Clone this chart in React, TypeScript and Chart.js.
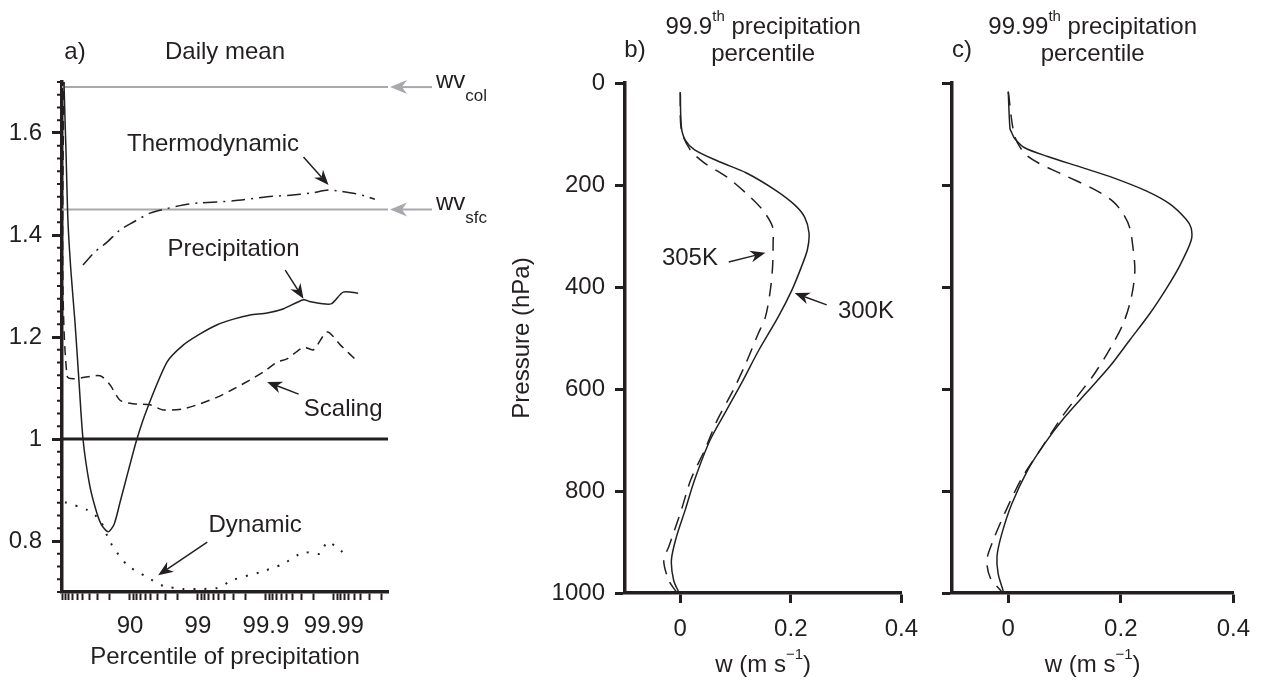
import React, { useEffect, useRef } from 'react';
import { Chart, registerables } from 'chart.js';

Chart.register(...registerables);

const FONT = '"Liberation Sans", Arial, Helvetica, sans-serif';
const INK = '#231f20';
const GREY = '#a7a9ac';

// ---------- Panel a: ratio vs percentile of precipitation ----------
const PCT_MIN = 0;
const PCT_MAX = 99.9984;
const pctLabelTicks = [90, 99, 99.9, 99.99];
const pctLabels = ['90', '99', '99.9', '99.99'];
const pctMinorTicks = [
  0, 10, 20, 30, 40, 50, 60, 70, 80,
  91, 92, 93, 94, 95, 96, 97, 98,
  99.1, 99.2, 99.3, 99.4, 99.5, 99.6, 99.7, 99.8,
  99.91, 99.92, 99.93, 99.94, 99.95, 99.96, 99.97, 99.98,
  99.991, 99.992, 99.993, 99.994, 99.995, 99.996, 99.997, 99.998,
];
const ratioTicks = [0.8, 1, 1.2, 1.4, 1.6];
const ratioMinorTicks = Array.from({ length: 41 }, (_, k) => +(0.7 + k * 0.025).toFixed(3)).filter(
  (v) => !ratioTicks.includes(v)
);

const precipPct = [3.3, 6.6, 12.7, 18.4, 26.3, 35.6, 43.8, 50.9, 60.0, 67.3, 73.4, 79.0, 82.9, 86.0, 89.3, 92.1, 94.4, 97.16, 98.35, 99.07, 99.48, 99.7, 99.83, 99.904, 99.944, 99.972, 99.978, 99.989, 99.9927, 99.9956];
const precipRatio = [1.8, 1.696, 1.563, 1.425, 1.327, 1.229, 1.112, 1.0, 0.916, 0.867, 0.833, 0.818, 0.833, 0.876, 0.935, 1.0, 1.059, 1.151, 1.184, 1.206, 1.224, 1.235, 1.243, 1.247, 1.255, 1.273, 1.269, 1.265, 1.288, 1.286];

const scalingPct = [6.6, 15.6, 72.4, 80.4, 86.0, 91.0, 94.94, 96.75, 98.35, 99.07, 99.48, 99.7, 99.83, 99.89, 99.932, 99.951, 99.972, 99.98, 99.9875, 99.992, 99.9956];
const scalingRatio = [1.8, 1.124, 1.124, 1.106, 1.076, 1.069, 1.067, 1.057, 1.059, 1.069, 1.082, 1.098, 1.116, 1.131, 1.151, 1.157, 1.18, 1.175, 1.21, 1.184, 1.151];

const thermoPct = [50.9, 67.3, 78.3, 86.0, 91.0, 94.94, 96.96, 98.35, 99.07, 99.7, 99.904, 99.956, 99.9777, 99.9879, 99.992, 99.9948, 99.9968, 99.9975];
const thermoRatio = [1.341, 1.367, 1.386, 1.41, 1.425, 1.443, 1.451, 1.459, 1.463, 1.467, 1.475, 1.478, 1.482, 1.488, 1.486, 1.482, 1.475, 1.47];

const dynamicPct = [9.7, 57.2, 72.4, 80.4, 88.97, 94.4, 96.75, 98.35, 99.07, 99.48, 99.7, 99.879, 99.944, 99.972, 99.984, 99.9875, 99.992, 99.9939];
const dynamicRatio = [0.876, 0.861, 0.841, 0.798, 0.753, 0.729, 0.712, 0.706, 0.706, 0.708, 0.724, 0.739, 0.755, 0.778, 0.775, 0.798, 0.782, 0.765];

const unityRatio = 1;
const wvColRatio = 1.69;
const wvSfcRatio = 1.45;

const annotA = [
  { text: 'Thermodynamic', at: [99.4, 1.578], from: [99.972, 1.553], to: [99.988, 1.498] },
  { text: 'Precipitation', at: [99.7, 1.371], from: [99.948, 1.331], to: [99.972, 1.275] },
  { text: 'Scaling', at: [99.9927, 1.059], from: [99.967, 1.088], to: [99.904, 1.112] },
  { text: 'Dynamic', at: [99.856, 0.831], from: [99.27, 0.798], to: [96.15, 0.733] },
];

// ---------- Panels b and c: vertical velocity profiles ----------
const pressTicks = [0, 200, 400, 600, 800, 1000];
const wTicks = [0, 0.2, 0.4];

const b300P = [18, 86, 112, 131, 155, 176, 210, 239, 263, 294, 327, 361, 406, 459, 524, 582, 641, 700, 778, 837, 890, 935, 975, 1000];
const b300W = [0.0, 0.002, 0.009, 0.026, 0.072, 0.119, 0.172, 0.207, 0.225, 0.233, 0.23, 0.219, 0.202, 0.177, 0.142, 0.114, 0.084, 0.054, 0.026, 0.009, -0.007, -0.016, -0.012, -0.002];
const b305P = [18, 92, 131, 157, 184, 216, 249, 282, 314, 361, 406, 459, 494, 549, 602, 661, 720, 778, 837, 910, 935, 975, 998];
const b305W = [0, 0.002, 0.018, 0.044, 0.084, 0.119, 0.149, 0.167, 0.168, 0.167, 0.163, 0.154, 0.14, 0.119, 0.096, 0.067, 0.044, 0.019, 0.002, -0.021, -0.03, -0.021, -0.007];

const c300P = [17, 89, 97, 110, 127, 144, 165, 186, 212, 237, 267, 284, 309, 360, 403, 453, 504, 555, 606, 657, 708, 758, 826, 886, 928, 962, 996];
const c300W = [0, 0.003, 0.006, 0.012, 0.029, 0.07, 0.129, 0.187, 0.246, 0.287, 0.316, 0.325, 0.325, 0.304, 0.281, 0.251, 0.216, 0.181, 0.14, 0.099, 0.064, 0.035, 0.006, -0.012, -0.02, -0.018, -0.009];
const c305P = [17, 106, 144, 178, 208, 233, 258, 284, 326, 369, 419, 470, 521, 572, 614, 657, 716, 775, 843, 903, 936, 970, 997];
const c305W = [0, 0.012, 0.035, 0.094, 0.152, 0.187, 0.205, 0.216, 0.222, 0.225, 0.219, 0.205, 0.181, 0.152, 0.123, 0.094, 0.059, 0.024, -0.006, -0.029, -0.038, -0.032, -0.012];

const annotB = [
  { text: '305K', at: [0.0175, 343], from: [0.0877, 351], to: [0.154, 333] },
  { text: '300K', at: [0.336, 447], from: [0.265, 435], to: [0.207, 412] },
];

// ---------- drawing helpers ----------
type Run = { t: string; s?: number; dy?: number };

function drawText(ctx: any, runs: Run[], x: number, y: number, align: 'left' | 'center' = 'center') {
  const widths = runs.map((r) => {
    ctx.font = `${r.s || 24}px ${FONT}`;
    return ctx.measureText(r.t).width;
  });
  const total = widths.reduce((a, b) => a + b, 0);
  let cx = align === 'center' ? x - total / 2 : x;
  ctx.fillStyle = INK;
  ctx.textAlign = 'left';
  ctx.textBaseline = 'middle';
  runs.forEach((r, i) => {
    ctx.font = `${r.s || 24}px ${FONT}`;
    ctx.fillText(r.t, cx, y + (r.dy || 0));
    cx += widths[i];
  });
}

function drawArrow(ctx: any, x1: number, y1: number, x2: number, y2: number, color: string, len = 15, half = 6, lw = 1.5) {
  const a = Math.atan2(y2 - y1, x2 - x1);
  const ux = Math.cos(a);
  const uy = Math.sin(a);
  const bx = x2 - ux * len;
  const by = y2 - uy * len;
  const nx = x2 - ux * len * 0.7;
  const ny = y2 - uy * len * 0.7;
  ctx.strokeStyle = color;
  ctx.lineWidth = lw;
  ctx.beginPath();
  ctx.moveTo(x1, y1);
  ctx.lineTo(nx, ny);
  ctx.stroke();
  ctx.fillStyle = color;
  ctx.beginPath();
  ctx.moveTo(x2, y2);
  ctx.lineTo(bx - uy * half, by + ux * half);
  ctx.lineTo(nx, ny);
  ctx.lineTo(bx + uy * half, by - ux * half);
  ctx.closePath();
  ctx.fill();
}

const tickFont = { family: FONT, size: 24 };

// ---------- panel a ----------
function configA(): any {
  const toX = (p: number) => 100 - p;
  const curve = (pct: number[], ratio: number[], dash: number[], width = 1.5) => ({
    data: pct.map((p, i) => ({ x: toX(p), y: ratio[i] })),
    borderColor: INK,
    borderWidth: width,
    borderDash: dash,
    pointRadius: 0,
    tension: 0.25,
    fill: false,
  });
  const hline = (v: number, color: string, width: number) => ({
    data: [
      { x: toX(PCT_MIN), y: v },
      { x: toX(PCT_MAX), y: v },
    ],
    borderColor: color,
    borderWidth: width,
    pointRadius: 0,
    tension: 0,
    fill: false,
  });
  const decor = {
    id: 'decorA',
    afterDraw(chart: any) {
      const { ctx, chartArea: ca, scales } = chart;
      const px = (p: number) => scales.x.getPixelForValue(toX(p));
      const py = (v: number) => scales.y.getPixelForValue(v);
      ctx.save();
      ctx.strokeStyle = INK;
      ctx.lineWidth = 2;
      for (const v of ratioMinorTicks) {
        const y = py(v);
        ctx.beginPath();
        ctx.moveTo(ca.left - 5, y);
        ctx.lineTo(ca.left, y);
        ctx.stroke();
      }
      const mid = (ca.left + ca.right) / 2;
      drawText(ctx, [{ t: 'a)' }], ca.left + 13, ca.top - 30);
      drawText(ctx, [{ t: 'Daily mean' }], mid, ca.top - 30);
      drawText(ctx, [{ t: 'Percentile of precipitation' }], mid, ca.bottom + 65);
      const refs = [
        { v: wvColRatio, sub: 'col' },
        { v: wvSfcRatio, sub: 'sfc' },
      ];
      for (const r of refs) {
        const y = py(r.v);
        drawArrow(ctx, ca.right + 44, y, ca.right + 2, y, GREY, 17, 7, 2);
        drawText(ctx, [{ t: 'wv', dy: -6 }, { t: r.sub, s: 17, dy: 9 }], ca.right + 48, y, 'left');
      }
      for (const a of annotA) {
        drawText(ctx, [{ t: a.text }], px(a.at[0]), py(a.at[1]));
        drawArrow(ctx, px(a.from[0]), py(a.from[1]), px(a.to[0]), py(a.to[1]), INK);
      }
      ctx.restore();
    },
  };
  return {
    type: 'line',
    data: {
      datasets: [
        curve(precipPct, precipRatio, []),
        curve(scalingPct, scalingRatio, [9, 6]),
        curve(thermoPct, thermoRatio, [14, 6, 2, 6]),
        curve(dynamicPct, dynamicRatio, [2, 9], 2),
        hline(unityRatio, INK, 3),
        hline(wvColRatio, GREY, 2),
        hline(wvSfcRatio, GREY, 2),
      ],
    },
    options: {
      animation: false,
      responsive: false,
      maintainAspectRatio: false,
      layout: { padding: { left: 0, top: 82, right: 112, bottom: 0 } },
      plugins: { legend: { display: false }, tooltip: { enabled: false }, title: { display: false } },
      scales: {
        x: {
          type: 'logarithmic',
          reverse: true,
          min: 100 - PCT_MAX,
          max: 100 - PCT_MIN,
          afterBuildTicks: (s: any) => {
            s.ticks = [...pctMinorTicks, ...pctLabelTicks].map((p) => ({ value: 100 - p }));
          },
          afterFit: (s: any) => {
            s.height = 89;
          },
          ticks: {
            autoSkip: false,
            maxRotation: 0,
            minRotation: 0,
            padding: 12,
            font: tickFont,
            color: INK,
            callback: (v: number) => {
              const i = pctLabelTicks.findIndex((p) => Math.abs(100 - p - v) < 1e-7);
              return i >= 0 ? pctLabels[i] : '';
            },
          },
          grid: { drawOnChartArea: false, drawTicks: true, tickLength: 8, tickWidth: 2, tickColor: INK },
          border: { display: true, color: INK, width: 3.5 },
        },
        y: {
          type: 'linear',
          min: 0.7,
          max: 1.7,
          afterBuildTicks: (s: any) => {
            s.ticks = ratioTicks.map((v) => ({ value: v }));
          },
          afterFit: (s: any) => {
            s.width = 62;
          },
          ticks: {
            padding: 10,
            font: tickFont,
            color: INK,
            callback: (v: number) => (v === 1 ? '1' : Number(v).toFixed(1)),
          },
          grid: { drawOnChartArea: false, drawTicks: true, tickLength: 10, tickWidth: 3, tickColor: INK },
          border: { display: true, color: INK, width: 3.5 },
        },
      },
    },
    plugins: [decor],
  };
}

// ---------- panels b, c ----------
function configProfile(panel: 'b' | 'c'): any {
  const isB = panel === 'b';
  const coolW = isB ? b300W : c300W;
  const coolP = isB ? b300P : c300P;
  const warmW = isB ? b305W : c305W;
  const warmP = isB ? b305P : c305P;
  const prof = (w: number[], p: number[], dash: number[]) => ({
    data: w.map((x, i) => ({ x, y: p[i] })),
    borderColor: INK,
    borderWidth: 1.5,
    borderDash: dash,
    pointRadius: 0,
    tension: 0.3,
    fill: false,
  });
  const decor = {
    id: 'decor' + panel,
    afterDraw(chart: any) {
      const { ctx, chartArea: ca, scales } = chart;
      const px = (w: number) => scales.x.getPixelForValue(w);
      const py = (p: number) => scales.y.getPixelForValue(p);
      const mid = (ca.left + ca.right) / 2;
      ctx.save();
      drawText(ctx, [{ t: isB ? '99.9' : '99.99' }, { t: 'th', s: 15, dy: -10 }, { t: ' precipitation' }], mid, ca.top - 56);
      drawText(ctx, [{ t: 'percentile' }], mid, ca.top - 29);
      drawText(ctx, [{ t: isB ? 'b)' : 'c)' }], ca.left + 10, ca.top - 33);
      drawText(ctx, [{ t: 'w (m s' }, { t: '\u22121', s: 15, dy: -10 }, { t: ')' }], mid, ca.bottom + 72);
      if (isB) {
        ctx.save();
        ctx.translate(ca.left - 103, (ca.top + ca.bottom) / 2);
        ctx.rotate(-Math.PI / 2);
        drawText(ctx, [{ t: 'Pressure (hPa)' }], 0, 0);
        ctx.restore();
        for (const a of annotB) {
          drawText(ctx, [{ t: a.text }], px(a.at[0]), py(a.at[1]));
          drawArrow(ctx, px(a.from[0]), py(a.from[1]), px(a.to[0]), py(a.to[1]), INK);
        }
      }
      ctx.restore();
    },
  };
  return {
    type: 'line',
    data: {
      datasets: [prof(coolW, coolP, []), prof(warmW, warmP, [14, 9])],
    },
    options: {
      animation: false,
      responsive: false,
      maintainAspectRatio: false,
      layout: { padding: { left: 0, top: 83, right: isB ? 20 : 25, bottom: 0 } },
      plugins: { legend: { display: false }, tooltip: { enabled: false }, title: { display: false } },
      scales: {
        x: {
          type: 'linear',
          min: -0.1,
          max: 0.4,
          afterBuildTicks: (s: any) => {
            s.ticks = wTicks.map((v) => ({ value: v }));
          },
          afterFit: (s: any) => {
            s.height = 88;
          },
          ticks: {
            autoSkip: false,
            maxRotation: 0,
            minRotation: 0,
            padding: 12,
            font: tickFont,
            color: INK,
            callback: (v: number) => String(v),
          },
          grid: { drawOnChartArea: false, drawTicks: true, tickLength: 10, tickWidth: 3, tickColor: INK },
          border: { display: true, color: INK, width: 3.5 },
        },
        y: {
          type: 'linear',
          reverse: true,
          min: 0,
          max: 1000,
          afterBuildTicks: (s: any) => {
            s.ticks = pressTicks.map((v) => ({ value: v }));
          },
          afterFit: (s: any) => {
            s.width = isB ? 185 : 22;
          },
          ticks: {
            display: isB,
            padding: 10,
            font: tickFont,
            color: INK,
            callback: (v: number) => String(v),
          },
          grid: { drawOnChartArea: false, drawTicks: true, tickLength: 10, tickWidth: 3, tickColor: INK },
          border: { display: true, color: INK, width: 3.5 },
        },
      },
    },
    plugins: [decor],
  };
}

export default function App() {
  const aRef = useRef<HTMLCanvasElement>(null);
  const bRef = useRef<HTMLCanvasElement>(null);
  const cRef = useRef<HTMLCanvasElement>(null);

  useEffect(() => {
    const charts = [
      new Chart(aRef.current as HTMLCanvasElement, configA()),
      new Chart(bRef.current as HTMLCanvasElement, configProfile('b')),
      new Chart(cRef.current as HTMLCanvasElement, configProfile('c')),
    ];
    return () => charts.forEach((c) => c.destroy());
  }, []);

  return (
    <div style={{ position: 'absolute', left: 0, top: 0, width: 1262, height: 681, background: '#ffffff' }}>
      <canvas ref={aRef} width={500} height={681} style={{ position: 'absolute', left: 0, top: 0, width: 500, height: 681 }} />
      <canvas ref={bRef} width={490} height={681} style={{ position: 'absolute', left: 440, top: 0, width: 490, height: 681 }} />
      <canvas ref={cRef} width={332} height={681} style={{ position: 'absolute', left: 930, top: 0, width: 332, height: 681 }} />
    </div>
  );
}
